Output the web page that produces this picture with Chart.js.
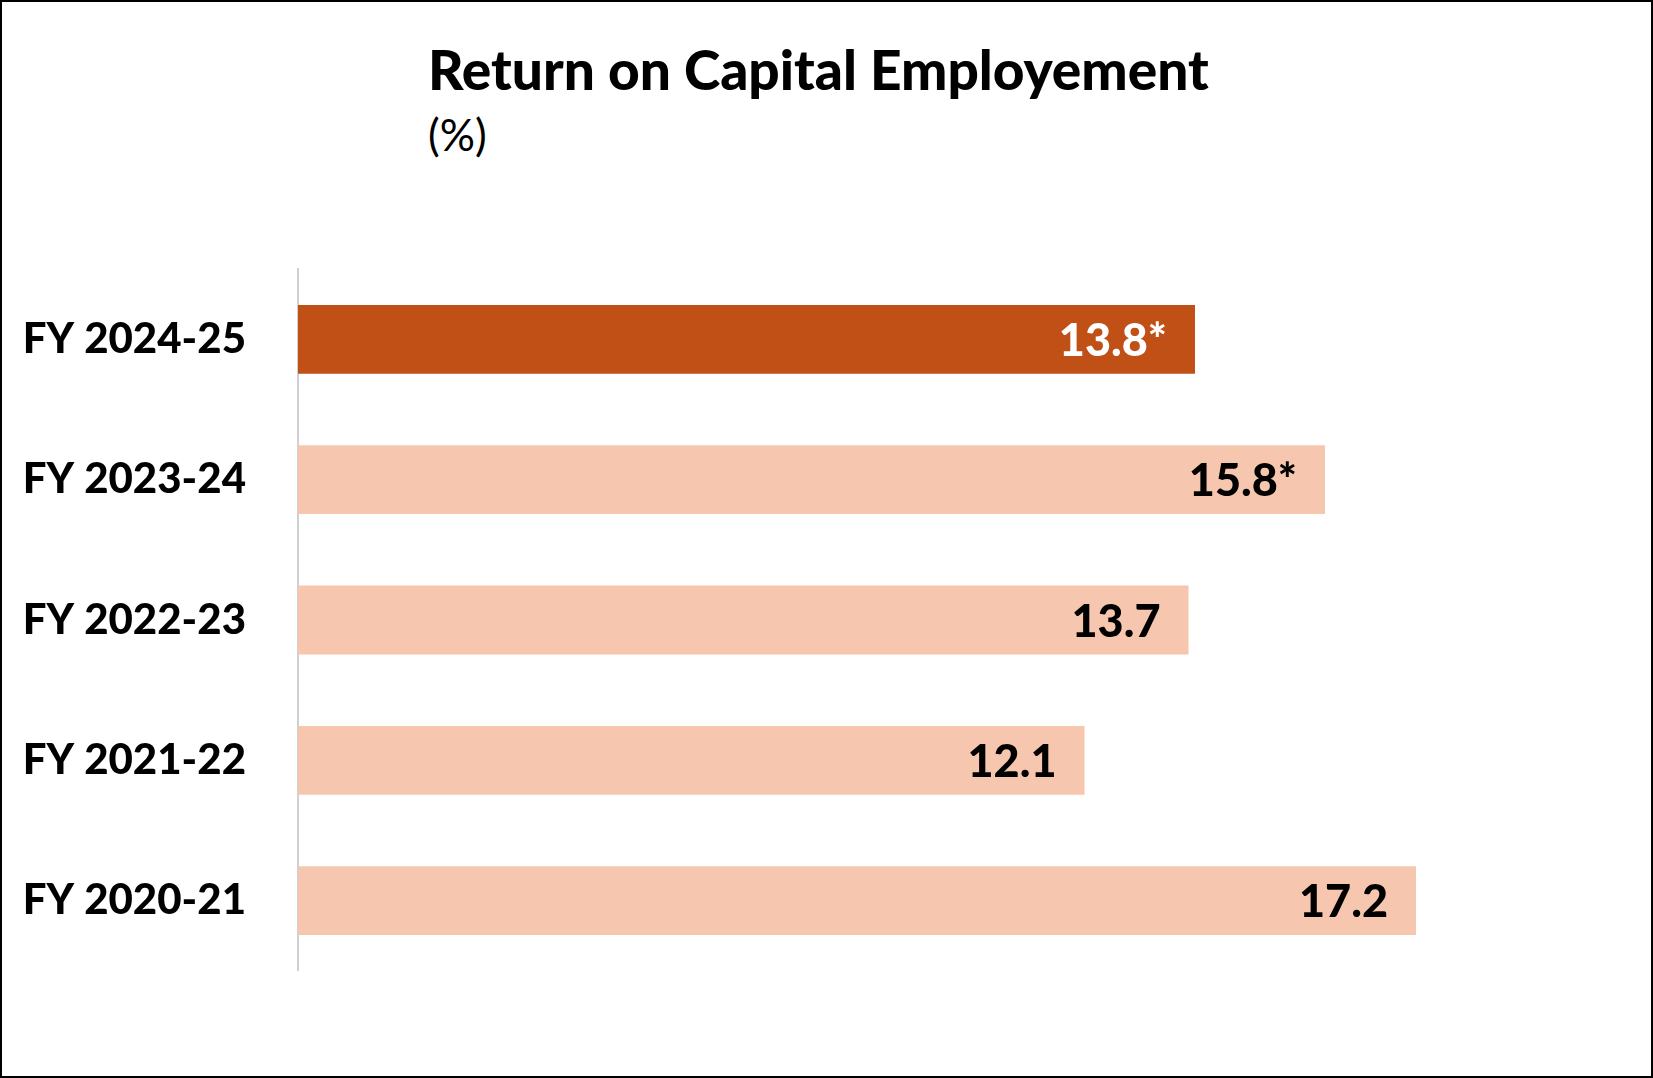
<!DOCTYPE html>
<html>
<head>
<meta charset="utf-8">
<script src="https://cdn.jsdelivr.net/npm/chart.js@4"></script>
<style>
  html, body { margin: 0; padding: 0; background: #fff; overflow: hidden; }
  #frame { position: absolute; left: 0; top: 0; width: 1649px; height: 1074px; border: 2px solid #000; box-sizing: content-box; }
  #title { position: absolute; left: 428px; top: 36px; font: 900 55px Lato, "Noto Sans", sans-serif; color: #000; }
  #sub { position: absolute; left: 428px; top: 108px; font: 44px Lato, "Noto Sans", sans-serif; color: #000; }
  #c { position: absolute; left: 0; top: 200px; }
</style>
</head>
<body>
<div id="frame"></div>
<div id="title">Return on Capital Employement</div>
<div id="sub">(%)</div>
<canvas id="c" width="1653" height="840" style="width:1653px;height:840px"></canvas>
<script>
// Data
const years = ['FY 2024-25', 'FY 2023-24', 'FY 2022-23', 'FY 2021-22', 'FY 2020-21'];
const roce = [13.8, 15.8, 13.7, 12.1, 17.2];
const valueLabels = ['13.8*', '15.8*', '13.7', '12.1', '17.2'];
const barColors = ['#c05016', '#f6c7ae', '#f6c7ae', '#f6c7ae', '#f6c7ae'];
const labelColors = ['#ffffff', '#000000', '#000000', '#000000', '#000000'];

const fontFamily = 'Lato, "Noto Sans", sans-serif';

// labels drawn inside the end of each bar
const endLabels = {
    id: 'endLabels',
    afterDatasetsDraw(chart) {
        const ctx = chart.ctx;
        const meta = chart.getDatasetMeta(0);
        ctx.save();
        ctx.font = '900 45px ' + fontFamily;
        ctx.textAlign = 'right';
        ctx.textBaseline = 'middle';
        meta.data.forEach((bar, i) => {
            ctx.fillStyle = labelColors[i];
            ctx.fillText(valueLabels[i], bar.x - 28, bar.y + 2);
        });
        ctx.restore();
    }
};

new Chart(document.getElementById('c'), {
    type: 'bar',
    data: {
        labels: years,
        datasets: [{
            data: roce,
            backgroundColor: barColors,
            borderWidth: 0,
            barPercentage: 0.49,
            categoryPercentage: 1
        }]
    },
    options: {
        indexAxis: 'y',
        responsive: false,
        animation: false,
        devicePixelRatio: 1,
        layout: { padding: { left: 0, right: 55, top: 16, bottom: 16 } },
        plugins: { legend: { display: false }, tooltip: { enabled: false } },
        scales: {
            x: { display: false, min: 0, max: 20 },
            y: {
                grid: { display: false },
                border: { display: true, color: '#d0d0d0', width: 2 },
                afterFit(scale) { scale.width = 298; },
                ticks: {
                    color: '#000',
                    padding: 44,
                    font: { family: fontFamily, size: 42, weight: '900' }
                }
            }
        }
    },
    plugins: [endLabels]
});
</script>
</body>
</html>
